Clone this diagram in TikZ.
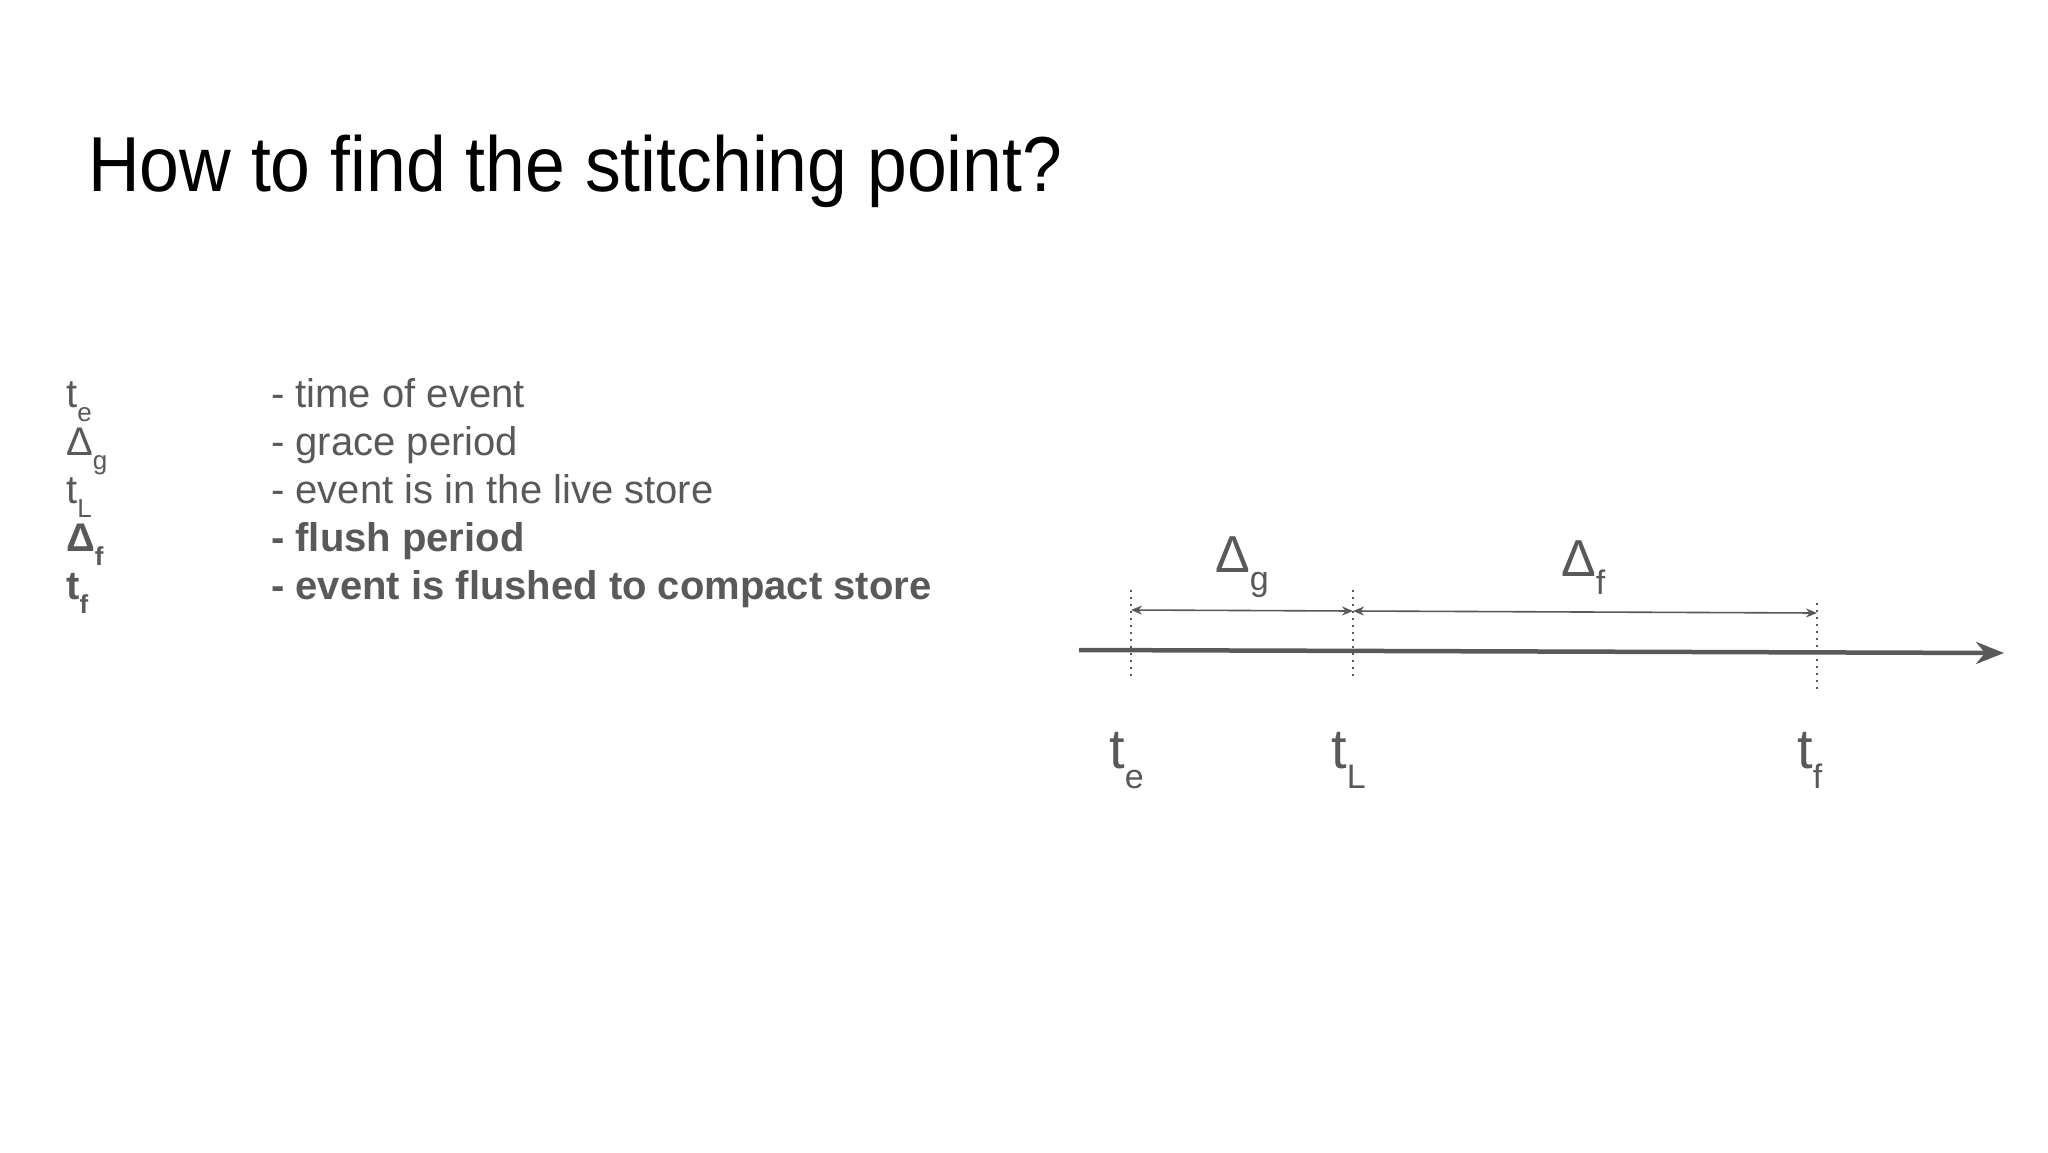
\documentclass[tikz,border=0pt]{standalone}
\usepackage{fontspec}
\setmainfont{Liberation Sans}
\usetikzlibrary{arrows.meta}
\definecolor{txtgray}{HTML}{595959}
\newcommand{\symsub}[3]{#1\raisebox{-0.36em}{\fontsize{#3}{#3}\selectfont #2}}
\begin{document}
\begin{tikzpicture}[x=1pt,y=-1pt,
  lbl/.style={anchor=base west,inner sep=0pt,text=txtgray},
  legsym/.style={lbl,font=\fontsize{40}{48}\selectfont},
  legtxt/.style={lbl,font=\fontsize{40}{48}\selectfont},
  tlbl/.style={lbl,font=\fontsize{56}{64}\selectfont},
  dlbl/.style={lbl,font=\fontsize{52}{60}\selectfont},
  guide/.style={draw=txtgray,line width=1.5pt,dash pattern=on 1.5pt off 5.5pt},
  span/.style={draw=txtgray,line width=1.6pt,{Stealth[length=11pt,width=9pt]}-{Stealth[length=11pt,width=9pt]}},
  axis/.style={draw=txtgray,line width=4.5pt,-{Stealth[length=28pt,width=22pt]}}]
\useasboundingbox[fill=white] (0,0) rectangle (2048,1152);
% title
\node[anchor=base west,inner sep=0pt,font=\fontsize{78}{94}\selectfont] (title) at (88,191) {\scalebox{0.917}[1]{How to find the stitching point?}};
% legend
\node[legsym] (s1) at (66,407) {\symsub{t}{e}{26}};
\node[legsym] (s2) at (66,455) {\symsub{Δ}{g}{26}};
\node[legsym] (s3) at (66,503) {\symsub{t}{L}{26}};
\node[legsym] (s4) at (66,551) {\bfseries\symsub{Δ}{f}{26}};
\node[legsym] (s5) at (66,599) {\bfseries\symsub{t}{f}{26}};
\node[legtxt] (d1) at (271,407) {- time of event};
\node[legtxt] (d2) at (271,455) {- grace period};
\node[legtxt] (d3) at (271,503) {- event is in the live store};
\node[legtxt] (d4) at (271,551) {\bfseries - flush period};
\node[legtxt] (d5) at (271,599) {\bfseries - event is flushed to compact store};
% timeline
\coordinate (ax0) at (1079,650);
\coordinate (ax1) at (2004,653);
\draw[axis] (ax0) -- (ax1);
\coordinate (ge0) at (1131,590); \coordinate (ge1) at (1131,680);
\coordinate (gl0) at (1353,590); \coordinate (gl1) at (1353,680);
\coordinate (gf0) at (1817,603); \coordinate (gf1) at (1817,693);
\draw[guide] (ge0) -- (ge1);
\draw[guide] (gl0) -- (gl1);
\draw[guide] (gf0) -- (gf1);
\coordinate (pe) at (1131,610);
\coordinate (pl) at (1353,611);
\coordinate (pf) at (1817,613);
\draw[span] (pe) -- (pl);
\draw[span] (pl) -- (pf);
\node[dlbl] (dg) at (1215,572) {\symsub{Δ}{g}{34}};
\node[dlbl] (df) at (1561,576) {\symsub{Δ}{f}{34}};
\node[tlbl] (te) at (1109,768) {\symsub{t}{e}{34}};
\node[tlbl] (tL) at (1331,768) {\symsub{t}{L}{34}};
\node[tlbl] (tf) at (1797,768) {\symsub{t}{f}{34}};
\end{tikzpicture}
\end{document}
